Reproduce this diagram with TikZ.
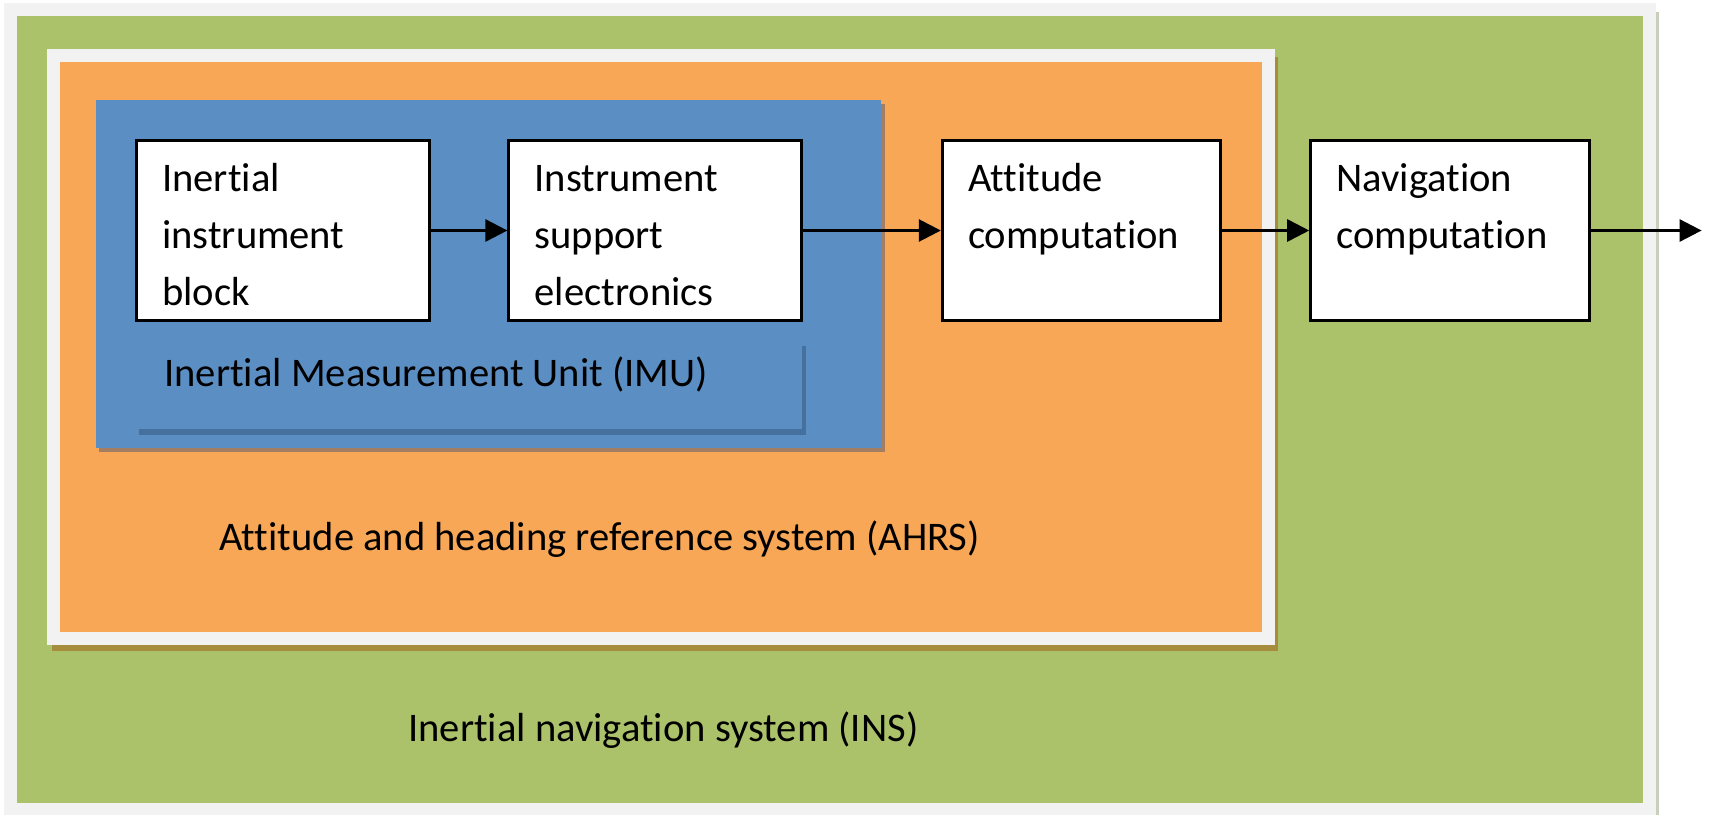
\documentclass[tikz,border=0pt]{standalone}
\usepackage{fontspec}
\setmainfont{Carlito}[Ligatures=NoCommon]
\usepackage{xcolor}
\usetikzlibrary{arrows.meta, positioning}

\definecolor{fondgris}{RGB}{242,242,242}
\definecolor{bordgris}{RGB}{200,207,188}
\definecolor{vertins}{RGB}{172,194,106}
\definecolor{ombreverte}{RGB}{166,141,62}
\definecolor{orangeahrs}{RGB}{247,167,85}
\definecolor{ombreorange}{RGB}{163,126,98}
\definecolor{bleuimu}{RGB}{91,143,196}
\definecolor{bleuombre}{RGB}{70,112,158}

\newcommand{\bloctexte}[2]{\begin{minipage}[t][78.6pt][t]{#1}\strut#2\end{minipage}}

\tikzset{
  bloc/.style={draw, line width=1.5pt, fill=white, inner xsep=12.85pt, inner ysep=5.7pt,
    font=\fontsize{20.3}{28.5}\selectfont},
  titre/.style={anchor=base west, inner sep=0pt, font=\fontsize{20.3}{28.5}\selectfont}
}

\begin{document}
\begin{tikzpicture}[x=0.5pt, y=-0.5pt, >={Triangle[length=11pt,width=11pt]}, line width=1.4pt]
            \useasboundingbox (0,0) rectangle (1713,815);
            % Cadres des trois systèmes
            \fill[fondgris] (4,3) rectangle (1656,815);
            \fill[bordgris] (1656,12) rectangle (1659,815);
            \fill[vertins] (17,16) rectangle (1643,803);
            \fill[ombreverte] (52,57) rectangle (1278,651);
            \fill[fondgris] (47,49) rectangle (1275,645);
            \fill[orangeahrs] (60,62) rectangle (1262,632);
            \fill[ombreorange] (99,104) rectangle (885,452);
            \fill[bleuimu] (96,100) rectangle (881,448);
            \fill[bleuombre] (139,346) rectangle (806,435);
            \fill[bleuimu] (135,341) rectangle (802,429);

            % Déclaration des blocs
            \node[bloc, anchor=north west] (iib) at (135,139) {\bloctexte{121pt}{Inertial\\instrument\\block}};
            \node[bloc, right=38pt of iib] (ise) {\bloctexte{120.5pt}{Instrument\\support\\electronics}};
            \node[bloc, right=69pt of ise] (ac) {\bloctexte{113.5pt}{Attitude\\computation}};
            \node[bloc, right=43.5pt of ac] (nc) {\bloctexte{113.5pt}{Navigation\\computation}};
            \coordinate[right=55.5pt of nc.east] (sortie);

            % Titres des systèmes
            \node[titre] (imu) at (163,386) {Inertial Measurement Unit (IMU)};
            \node[titre] (ahrs) at (218,550) {Attitude and heading reference system (AHRS)};
            \node[titre] (ins) at (407,741) {Inertial navigation system (INS)};

            % Ajout des flèches
            \draw[->] (iib) -- (ise);
            \draw[->] (ise) -- (ac);
            \draw[->] (ac) -- (nc);
            \draw[->] (nc) -- (sortie);
        \end{tikzpicture}
\end{document}
